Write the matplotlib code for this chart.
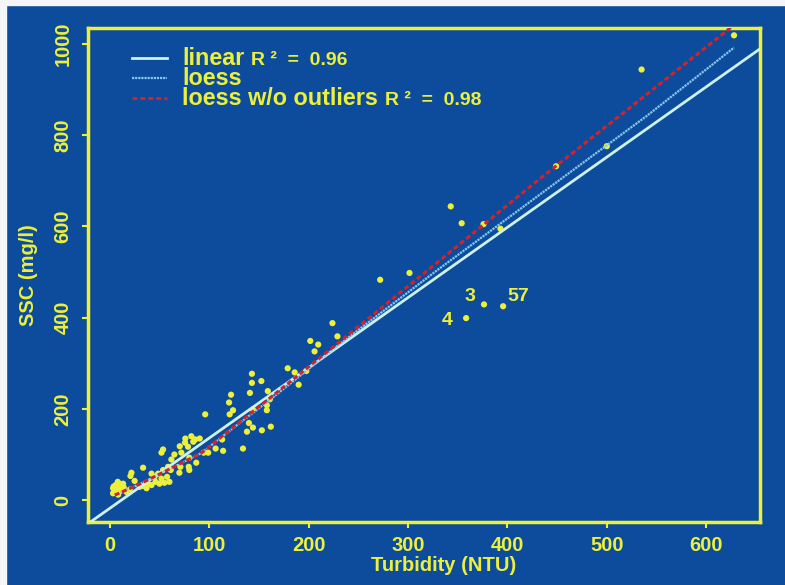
import numpy as np
import matplotlib.pyplot as plt
from matplotlib.patches import Rectangle

plt.rcParams['font.family'] = ['Liberation Sans', 'DejaVu Sans']
plt.rcParams['font.weight'] = 'bold'
plt.rcParams['axes.labelweight'] = 'bold'

BG = '#0D4C9C'
YEL = '#ECF03A'
EDGE = '#F4F6F8'

# turbidity vs suspended sediment samples
turb = [628, 535, 500, 449, 343, 354, 376, 393, 272, 301.5, 224, 229,
        201.7, 209.7, 206, 179, 186, 190, 197.7, 143, 143, 152.5, 141, 159,
        161, 158, 158, 144, 140, 144, 138, 153, 162, 134, 122, 120, 124,
        120.6, 113, 114, 106.5, 96, 99, 94.5, 87, 86, 90.5, 84, 82, 76,
        75.7, 70.4, 78.7, 72, 65, 53.6, 52, 80, 80, 79.4, 71, 70, 62, 58.6,
        61.3, 53.6, 33.5, 21.8, 20.8, 25, 33.5, 30, 38.5, 45, 48.6, 42, 52,
        57.6, 55, 50, 60, 46, 42, 37, 13.4, 10, 6, 3.3, 6.7, 3.3, 8.4, 5,
        12.7, 9.4, 20, 16.8, 4, 7, 10, 5, 14, 8]
ssc = [1019, 944, 776, 732, 644, 607, 605, 595, 483, 498, 388, 359,
       349, 341, 326, 289, 280, 253, 283, 277, 257, 261, 235, 239,
       221, 208, 197, 199, 169, 159, 150, 153, 161, 113, 231, 214, 197,
       188, 133, 108, 113, 188, 104, 104, 82, 133, 135, 128, 140, 135,
       126, 118, 117, 104, 100, 111, 104, 93, 66, 73, 73, 60, 89, 73,
       66, 66, 71, 60, 53, 42, 31, 29, 36, 51, 58, 58, 47,
       51, 38, 36, 40, 40, 33, 26, 36, 29, 33, 26, 20, 15, 12, 16,
       23, 36, 23, 18, 30, 25, 19, 22, 28, 40]

# outliers labelled by sample number
out_turb = [376.5, 395.7, 358.5]
out_ssc = [429, 425, 399]
out_id = ['3', '57', '4']

# linear fit: slope, intercept
lin_coef = [1.54, -18]

# loess curves
loess_x = [5, 30, 60, 92, 130, 160, 230, 330, 452, 540, 628]
loess_y = [11, 35, 68, 103, 168, 218, 340, 505, 701, 842, 992]
loess2_x = [5, 30, 60, 92, 130, 160, 230, 330, 430, 530, 627]
loess2_y = [11, 35, 68, 103, 170, 222, 345, 522, 700, 872, 1040]

fig = plt.figure(figsize=(7.85, 5.85), dpi=100, facecolor=BG)
# thin light strips along the left and top edges
fig.patches.append(Rectangle((0, 0), 6 / 785, 1, transform=fig.transFigure,
                             color=EDGE, zorder=-1))
fig.patches.append(Rectangle((0, 1 - 5 / 585), 1, 5 / 585,
                             transform=fig.transFigure, color=EDGE, zorder=-1))
ax = fig.add_axes([0.112, 0.1077, 0.856, 0.8444])
ax.set_facecolor(BG)

ax.scatter(turb, ssc, s=20, color=YEL, edgecolors='none', zorder=2)
ax.scatter(out_turb, out_ssc, s=20, color=YEL, edgecolors='none', zorder=2)

offsets = [(-10, 6), (11, 7), (-14, -2)]
for x, y, t, off in zip(out_turb, out_ssc, out_id, offsets):
    ax.annotate(t, (x, y), xytext=off, textcoords='offset points',
                ha='center', va='center', color=YEL, fontsize=14)

xs = np.array([-30, 660])
lin_style = dict(color='#CDF2EC', lw=2)
loess_style = dict(color='#86C6F0', lw=1.6, ls=(0, (1, 0.4)))
red_style = dict(color='#D2222C', lw=2.2, ls=(0, (1.6, 1.0)))
ax.plot(xs, lin_coef[0] * xs + lin_coef[1], zorder=3, **lin_style)
ax.plot(loess_x, loess_y, zorder=4, **loess_style)
ax.plot(loess2_x, loess2_y, zorder=5, **red_style)

ax.set_xlim(-22, 654)
ax.set_ylim(-48, 1035)
ax.set_xticks(range(0, 601, 100))
ax.set_yticks(range(0, 1001, 200))

for sp in ax.spines.values():
    sp.set_color(YEL)
    sp.set_linewidth(2.5)
ax.tick_params(direction='out', length=4, width=1.5, color=YEL,
               labelcolor=YEL, labelsize=14.5)
ax.tick_params(axis='y', pad=7)
ax.tick_params(axis='x', pad=6)
for lab in ax.get_yticklabels():
    lab.set_rotation(90)
    lab.set_va('center')

ax.set_xlabel('Turbidity (NTU)', color=YEL, fontsize=14.5)
ax.set_ylabel('SSC (mg/l)', color=YEL, fontsize=14.5)
ax.xaxis.set_label_coords(0.53, -0.068)
ax.yaxis.set_label_coords(-0.074, 0.5)

# hand-built legend in the top-left corner
rows = [('linear', 'R ²  =  0.96', lin_style),
        ('loess', None, loess_style),
        ('loess w/o outliers', 'R ²  =  0.98', red_style)]
for i, (name, r2, st) in enumerate(rows):
    yy = 0.939 - i * 0.0405
    ax.plot([0.066, 0.118], [yy, yy], transform=ax.transAxes, **st)
    txt = ax.text(0.140, yy, name, transform=ax.transAxes, color=YEL,
                  fontsize=16.8, va='center')
    if r2:
        ax.annotate(r2, xy=(1, 0.05), xycoords=txt, xytext=(5, 0),
                    textcoords='offset points', color=YEL, fontsize=14,
                    va='bottom')

fig.savefig('out.png', dpi=100, facecolor=fig.get_facecolor())
